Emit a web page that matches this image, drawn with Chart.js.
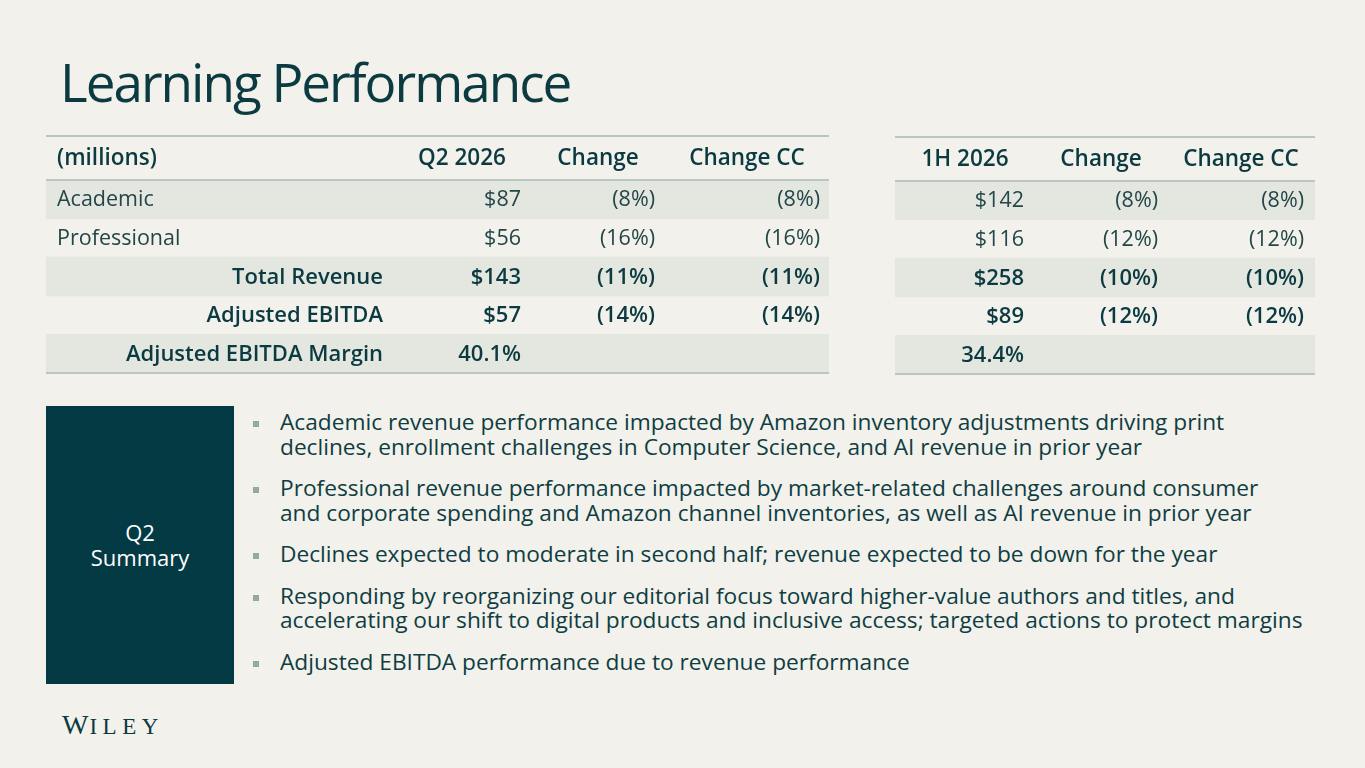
<!DOCTYPE html>
<html>
<head>
<meta charset="utf-8">
<script src="https://cdn.jsdelivr.net/npm/chart.js@4.4.1/dist/chart.umd.min.js"></script>
<style>
    body { margin: 0; background: #f2f1eb; font-family: "Open Sans", sans-serif; color: #0b3a40; }
    #slide { position: relative; width: 1365px; height: 768px; overflow: hidden; background: #f2f1eb; }
    #titulo { position: absolute; left: 60px; top: 55px; font-size: 53px; font-weight: 400; line-height: 1; letter-spacing: -2px; white-space: nowrap; }
    .tabla { position: absolute; }
    #cajaResumen { position: absolute; left: 46px; top: 406px; width: 188px; height: 278px; background: #033a44; color: #ffffff;
        display: flex; align-items: center; justify-content: center; text-align: center; font-size: 22px; line-height: 25px; }
    #listaResumen { position: absolute; left: 280px; top: 410px; font-size: 22.7px; line-height: 24.5px; color: #0e3d42; }
    #listaResumen div { position: relative; margin-bottom: 17px; white-space: nowrap; }
    #listaResumen div::before { content: ""; position: absolute; left: -27px; top: 11px; width: 6px; height: 6px; background: #93aa9f; }
    #logo { position: absolute; left: 62px; top: 711px; font-family: "Liberation Serif", serif; color: #0b3a40; line-height: 1; white-space: nowrap; }
    #logo .w { font-size: 28px; letter-spacing: 1px; }
    #logo .resto { font-size: 23px; letter-spacing: 5.5px; }
</style>
</head>
<body>
<div id="slide">
    <div id="titulo">Learning Performance</div>

    <div class="tabla" style="left:46px; top:135px; width:783px; height:240px;"><canvas id="canvasQ2"></canvas></div>
    <div class="tabla" style="left:895px; top:136px; width:420px; height:240px;"><canvas id="canvas1H"></canvas></div>

    <div id="cajaResumen">Q2<br>Summary</div>
    <div id="listaResumen"></div>

    <div id="logo"><span class="w">W</span><span class="resto">ILEY</span></div>
</div>

<script>
//Datos de la tabla
const rowLabels = ['Academic', 'Professional', 'Total Revenue', 'Adjusted EBITDA', 'Adjusted EBITDA Margin'];
const q2Headers = ['(millions)', 'Q2 2026', 'Change', 'Change CC'];
const q2Values = ['$87', '$56', '$143', '$57', '40.1%'];
const q2Change = ['(8%)', '(16%)', '(11%)', '(14%)', ''];
const q2ChangeCC = ['(8%)', '(16%)', '(11%)', '(14%)', ''];
const h1Headers = ['1H 2026', 'Change', 'Change CC'];
const h1Values = ['$142', '$116', '$258', '$89', '34.4%'];
const h1Change = ['(8%)', '(12%)', '(10%)', '(12%)', ''];
const h1ChangeCC = ['(8%)', '(12%)', '(10%)', '(12%)', ''];
const firstTotalRow = 2; //Desde esta fila el texto va en negrita

const summaryBullets = [
    ['Academic revenue performance impacted by Amazon inventory adjustments driving print',
     'declines, enrollment challenges in Computer Science, and AI revenue in prior year'],
    ['Professional revenue performance impacted by market-related challenges around consumer',
     'and corporate spending and Amazon channel inventories, as well as AI revenue in prior year'],
    ['Declines expected to moderate in second half; revenue expected to be down for the year'],
    ['Responding by reorganizing our editorial focus toward higher-value authors and titles, and',
     'accelerating our shift to digital products and inclusive access; targeted actions to protect margins'],
    ['Adjusted EBITDA performance due to revenue performance']
];
//Fin de datos

//Imprimir viñetas del resumen
summaryBullets.forEach(lines => {
    const div = document.createElement('div');
    div.innerHTML = lines.join('<br>');
    document.getElementById('listaResumen').appendChild(div);
});

const colorTexto = '#0b3a40';
const colorFila = '#e4e7e0';
const colorLinea = '#b9c6c1';

//Plugin que dibuja las líneas y el texto de cada celda usando las escalas
const tablaPlugin = {
    id: 'tabla',
    afterDatasetsDraw(chart, args, opts) {
        const { ctx, chartArea, scales: { x, y } } = chart;
        const left = x.getPixelForValue(x.min);
        const right = x.getPixelForValue(x.max);
        ctx.save();
        ctx.strokeStyle = colorLinea;
        ctx.lineWidth = 2;
        [1, chartArea.top, chartArea.bottom].forEach(py => {
            ctx.beginPath();
            ctx.moveTo(left, py);
            ctx.lineTo(right, py);
            ctx.stroke();
        });
        ctx.textBaseline = 'middle';
        ctx.fillStyle = colorTexto;
        //Encabezados
        const headerY = chartArea.top / 2 + 1;
        ctx.font = '600 22.5px "Open Sans"';
        opts.columns.forEach(col => {
            ctx.textAlign = col.headerAlign;
            ctx.fillText(col.header, x.getPixelForValue(col.headerAt), headerY);
        });
        //Celdas
        rowLabels.forEach((label, i) => {
            const py = y.getPixelForValue(i) + 1;
            const bold = i >= firstTotalRow;
            ctx.font = bold ? '600 22px "Open Sans"' : '400 21.5px "Open Sans"';
            ctx.fillStyle = bold ? colorTexto : '#244649';
            opts.columns.forEach(col => {
                if (!col.values) return;
                let align = col.align;
                let at = col.at;
                if (col.isLabel && !bold) { align = 'left'; at = col.leftAt; }
                ctx.textAlign = align;
                ctx.fillText(col.values[i], x.getPixelForValue(at), py);
            });
        });
        ctx.restore();
    }
};

const crearTabla = (canvasId, width, columns) => {
    const ctx = document.getElementById(canvasId).getContext('2d');
    return new Chart(ctx, {
        type: 'bar',
        data: {
            labels: rowLabels,
            datasets: [{
                data: rowLabels.map((_, i) => i % 2 === 0 ? [0, width] : null),
                backgroundColor: colorFila,
                categoryPercentage: 1,
                barPercentage: 1,
                borderWidth: 0
            }]
        },
        options: {
            indexAxis: 'y',
            responsive: true,
            maintainAspectRatio: false,
            animation: false,
            layout: { padding: { top: 45, bottom: 2, left: 0, right: 0 } },
            scales: {
                x: { type: 'linear', min: 0, max: width, display: false },
                y: { type: 'category', display: false }
            },
            plugins: {
                legend: { display: false },
                tooltip: { enabled: false },
                tabla: { columns }
            }
        },
        plugins: [tablaPlugin]
    });
};

crearTabla('canvasQ2', 783, [
    { header: q2Headers[0], headerAt: 11, headerAlign: 'left', values: rowLabels, isLabel: true, at: 337, align: 'right', leftAt: 11 },
    { header: q2Headers[1], headerAt: 416, headerAlign: 'center', values: q2Values, at: 475, align: 'right' },
    { header: q2Headers[2], headerAt: 552, headerAlign: 'center', values: q2Change, at: 609, align: 'right' },
    { header: q2Headers[3], headerAt: 701, headerAlign: 'center', values: q2ChangeCC, at: 774, align: 'right' }
]);

crearTabla('canvas1H', 420, [
    { header: h1Headers[0], headerAt: 70, headerAlign: 'center', values: h1Values, at: 129, align: 'right' },
    { header: h1Headers[1], headerAt: 206, headerAlign: 'center', values: h1Change, at: 263, align: 'right' },
    { header: h1Headers[2], headerAt: 346, headerAlign: 'center', values: h1ChangeCC, at: 409, align: 'right' }
]);
</script>
</body>
</html>
